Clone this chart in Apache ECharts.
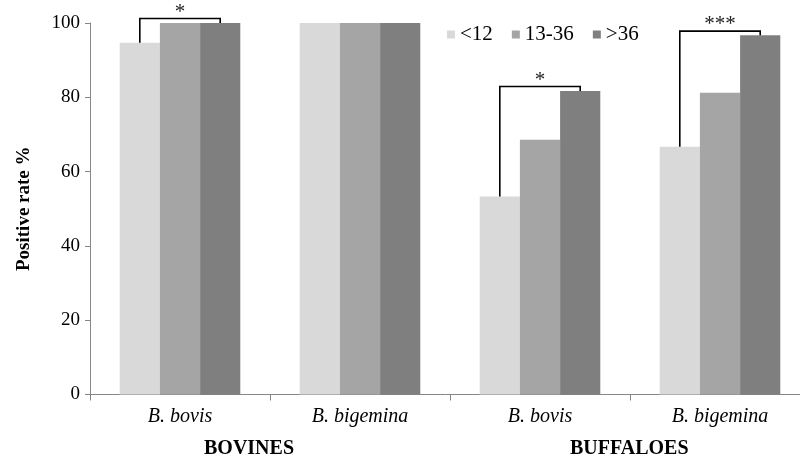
<!DOCTYPE html>
<html>
<head>
<meta charset="utf-8">
<script src="https://cdn.jsdelivr.net/npm/echarts@6/dist/echarts.min.js"></script>
<style>html,body{margin:0;padding:0;background:#fff;}#c{width:800px;height:458px;}</style>
</head>
<body>
<div id="c"></div>
<script>
var categories = ['B. bovis', 'B. bigemina', 'B. bovis', 'B. bigemina'];
var groupLabels = ['BOVINES', 'BUFFALOES'];
var seriesNames = ['<12', '13-36', '>36'];
var valuesLt12 = [94.7, 100, 53.3, 66.7];
var values13to36 = [100, 100, 68.6, 81.2];
var valuesGt36 = [100, 100, 81.7, 96.7];
var yTicks = [0, 20, 40, 60, 80, 100];
// brackets: [categoryIndex, fromSeries, toSeries, fromValue, toValue, topValue, label]
var brackets = [
  [0, 0, 2, 94.7, 100, 101.2, '*'],
  [2, 0, 2, 53.3, 81.7, 82.9, '*'],
  [3, 0, 2, 66.7, 96.7, 97.8, '***']
];
var colors = ['#d9d9d9', '#a5a5a5', '#7f7f7f'];
var serif = '"Liberation Serif", "DejaVu Serif", serif';
var catGap = 0.33;

var chart = echarts.init(document.getElementById('c'));
var allValues = [valuesLt12, values13to36, valuesGt36];
var barSeries = seriesNames.map(function (n, i) {
  return {
    name: n, type: 'bar', data: allValues[i], barGap: 0, barCategoryGap: (catGap * 100) + '%',
    itemStyle: { color: colors[i] }, silent: true
  };
});
barSeries.push({
  type: 'custom',
  data: brackets,
  silent: true,
  z: 5,
  renderItem: function (params, api) {
    var cat = api.value(0);
    var band = api.size([1, 0])[0];
    var bw = band * (1 - catGap) / 3;
    var c = api.coord([cat, 0])[0];
    var x1 = c + (api.value(1) - 1) * bw;
    var x2 = c + (api.value(2) - 1) * bw;
    var y1 = api.coord([cat, api.value(3)])[1];
    var y2 = api.coord([cat, api.value(4)])[1];
    var yt = api.coord([cat, api.value(5)])[1];
    var lab = brackets[params.dataIndex][6];
    return {
      type: 'group',
      children: [
        { type: 'polyline', shape: { points: [[x1, y1], [x1, yt], [x2, yt], [x2, y2]] },
          style: { stroke: '#000', lineWidth: 1.6, fill: null } },
        { type: 'text', style: { text: lab, x: (x1 + x2) / 2, y: yt + 4, align: 'center', verticalAlign: 'bottom',
          font: '21px ' + serif, fill: '#222' } }
      ]
    };
  }
});

chart.setOption({
  animation: false,
  backgroundColor: '#fff',
  grid: { left: 90, width: 720, top: 23, bottom: 63.5, outerBoundsMode: 'none', containLabel: false },
  legend: {
    data: seriesNames, left: 442, top: 19, icon: 'rect', itemWidth: 8, itemHeight: 8, itemGap: 19,
    textStyle: { fontFamily: serif, fontSize: 21, color: '#000' }, selectedMode: false
  },
  xAxis: {
    type: 'category', data: categories,
    axisLine: { lineStyle: { color: '#868686', width: 1 } },
    axisTick: { show: true, length: 6, lineStyle: { color: '#868686' } },
    axisLabel: { fontFamily: serif, fontStyle: 'italic', fontSize: 20, color: '#000', margin: 12 }
  },
  yAxis: {
    type: 'value', min: yTicks[0], max: yTicks[yTicks.length - 1], interval: yTicks[1] - yTicks[0],
    name: 'Positive rate %', nameLocation: 'middle', nameGap: 56, nameRotate: 90,
    nameTextStyle: { fontFamily: serif, fontWeight: 'bold', fontSize: 19, color: '#000' },
    axisLine: { show: true, lineStyle: { color: '#868686', width: 1 } },
    axisTick: { show: true, length: 5, lineStyle: { color: '#868686' } },
    splitLine: { show: false },
    axisLabel: { fontFamily: serif, fontSize: 19, color: '#000', margin: 10 }
  },
  graphic: [
    { type: 'text', left: 204, top: 439, style: { text: groupLabels[0], font: 'bold 20px ' + serif, fill: '#000' } },
    { type: 'text', left: 570, top: 439, style: { text: groupLabels[1], font: 'bold 20px ' + serif, fill: '#000' } }
  ],
  series: barSeries
});
</script>
</body>
</html>
